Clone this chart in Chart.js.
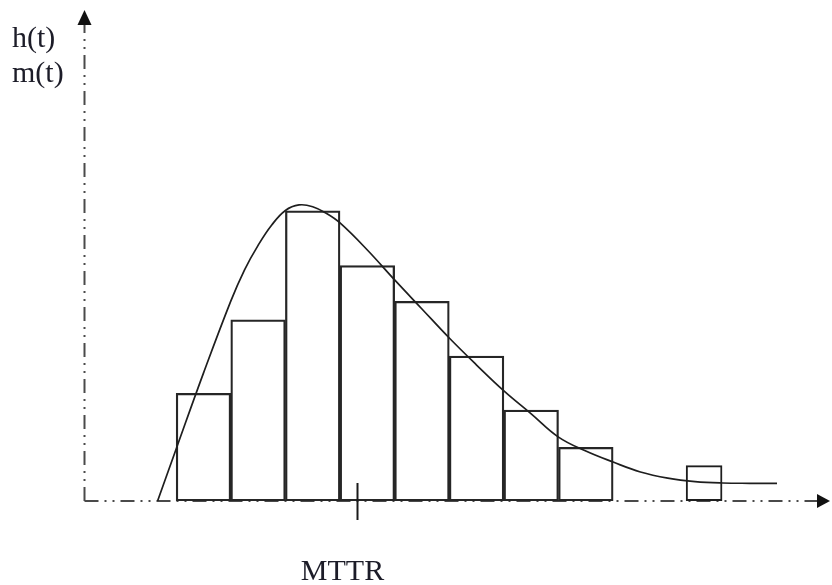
<!DOCTYPE html>
<html>
<head>
<meta charset="utf-8">
<script src="https://cdn.jsdelivr.net/npm/chart.js@4"></script>
<style>
    html, body { margin: 0; padding: 0; background: #fff; }
    #chart_wrap { width: 832px; height: 585px; }
</style>
</head>
<body>
<div id="chart_wrap"><canvas id="chart_histogram" width="832" height="585"></canvas></div>
<script>
// histogram bins (t in bin units, height in % of highest bin)
const bin_centers = [0.5, 1.5, 2.5, 3.5, 4.5, 5.5, 6.5, 7.5];
const bin_heights = [37.1, 62.4, 99.9, 81.0, 68.7, 49.9, 31.3, 18.5];
const late_centers = [9.665];
const late_heights = [12.3];

// fitted density m(t)
const curve_t = [-0.34, 0, 0.5, 1.0, 1.25, 1.5, 1.75, 2.0, 2.25, 2.5, 2.75, 3.0, 3.5, 4.0, 4.5, 5.0, 5.5, 6.0, 6.5, 7.0, 7.5, 8.0, 8.5, 9.0, 9.5, 10.0, 10.5, 11.0];
const curve_m = [0, 17.9, 44.0, 68.8, 79.5, 88.0, 95.0, 100.0, 101.9, 101.3, 99.0, 95.7, 86.4, 76.1, 66.1, 56.1, 46.8, 37.9, 30.0, 22.0, 17.2, 13.4, 10.0, 7.9, 6.7, 6.2, 6.1, 6.1];

const axis_titles = ["h(t)", "m(t)"];
const mttr_value = 3.32;
const mttr_label = "MTTR";

let histogram_page =
{
    init()
    {
        const ctx = document.getElementById("chart_histogram");
        new Chart(ctx, {
            type: "bar",
            data: {
                datasets: [
                    {
                        type: "line",
                        data: curve_t.map((t, i) => ({ x: t, y: curve_m[i] })),
                        borderColor: "#1e1e1e",
                        borderWidth: 1.7,
                        pointRadius: 0,
                        fill: false,
                        tension: 0.4,
                        order: 0,
                    },
                    {
                        data: bin_centers.map((t, i) => ({ x: t, y: bin_heights[i] })),
                        backgroundColor: "rgba(0, 0, 0, 0)",
                        borderColor: "#262626",
                        borderWidth: 1.6,
                        borderSkipped: false,
                        barPercentage: 1,
                        categoryPercentage: 1,
                        grouped: false,
                        order: 1,
                    },
                    {
                        data: late_centers.map((t, i) => ({ x: t, y: late_heights[i] })),
                        backgroundColor: "rgba(0, 0, 0, 0)",
                        borderColor: "#1e1e1e",
                        borderWidth: 2,
                        borderSkipped: false,
                        barPercentage: 0.67,
                        categoryPercentage: 1,
                        grouped: false,
                        order: 1,
                    },
                ]
            },
            options: {
                responsive: false,
                animation: false,
                layout: { padding: { left: 84, right: 2, top: 10, bottom: 84 } },
                plugins: { legend: { display: false }, tooltip: { enabled: false } },
                scales: {
                    x: {
                        type: "linear",
                        display: false,
                        offset: false,
                        min: -1.687,
                        max: 11.97,
                        ticks: { stepSize: 1, includeBounds: false },
                    },
                    y: {
                        type: "linear",
                        display: false,
                        min: 0,
                        max: 169,
                    }
                }
            },
            plugins: [this.axes_plugin()]
        });
    },

    axes_plugin()
    {
        return {
            id: "dash_dot_axes",
            beforeDatasetsDraw(chart) {
                const c = chart.ctx;
                const area = chart.chartArea;
                const y0 = chart.scales.y.getPixelForValue(0);
                const x0 = area.left + 0.5;
                c.save();
                c.strokeStyle = "#4a4a4a";
                c.lineWidth = 2;
                c.setLineDash([14, 6, 2, 6, 2, 6]);
                c.beginPath();
                c.moveTo(x0, y0);
                c.lineTo(area.right - 12, y0);
                c.stroke();
                c.beginPath();
                c.moveTo(x0, y0);
                c.lineTo(x0, area.top + 14);
                c.stroke();
                c.setLineDash([]);
                c.fillStyle = "#111";
                // arrow heads
                c.beginPath();
                c.moveTo(area.right, y0);
                c.lineTo(area.right - 13, y0 - 7);
                c.lineTo(area.right - 13, y0 + 7);
                c.closePath();
                c.fill();
                c.beginPath();
                c.moveTo(x0, area.top);
                c.lineTo(x0 - 7, area.top + 15);
                c.lineTo(x0 + 7, area.top + 15);
                c.closePath();
                c.fill();
                c.restore();
            },
            afterDraw(chart) {
                const c = chart.ctx;
                const y0 = chart.scales.y.getPixelForValue(0);
                const xm = chart.scales.x.getPixelForValue(mttr_value);
                c.save();
                c.strokeStyle = "#1a1a1a";
                c.lineWidth = 2;
                c.beginPath();
                c.moveTo(xm, y0 - 18);
                c.lineTo(xm, y0 + 19);
                c.stroke();
                c.fillStyle = "#1c1c28";
                c.font = "30px 'Liberation Serif', 'DejaVu Serif', serif";
                c.textAlign = "left";
                c.textBaseline = "alphabetic";
                c.fillText(axis_titles[0], 12, 47);
                c.fillText(axis_titles[1], 12, 82);
                c.textAlign = "center";
                c.fillText(mttr_label, xm - 15, 580);
                c.restore();
            }
        };
    },
}

histogram_page.init();
</script>
</body>
</html>
